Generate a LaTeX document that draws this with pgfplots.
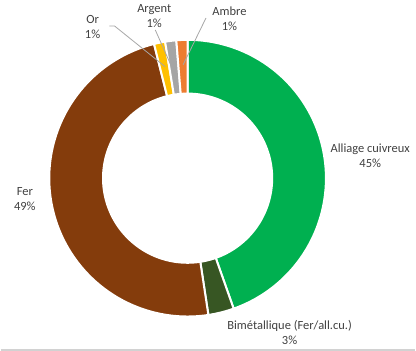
\documentclass[border=0pt]{standalone}
\usepackage{pgfplots}
\pgfplotsset{compat=1.18}
\usepackage{pgfplotstable}
\usepackage{fontspec}
\setmainfont{Carlito}

\definecolor{cu}{HTML}{00B050}
\definecolor{bim}{HTML}{375623}
\definecolor{fer}{HTML}{843C0C}
\definecolor{or}{HTML}{FFC000}
\definecolor{arg}{HTML}{A5A5A5}
\definecolor{amb}{HTML}{ED7D31}
\definecolor{lbl}{HTML}{404040}
\definecolor{lead}{HTML}{A6A6A6}

% share of each material, clockwise from 12 o'clock
\pgfplotstableread{
name value col
Alliage 44.6 cu
Bimetal 3.0 bim
Fer 48.5 fer
Or 1.3 or
Argent 1.3 arg
Ambre 1.3 amb
}\donut

\tikzset{lab/.style={font=\fontsize{9.4}{11.3}\selectfont, text=lbl, align=center}}

\begin{document}
\begin{tikzpicture}
\begin{axis}[scale only axis, width=312pt, height=262.5pt,
  xmin=0, xmax=416, ymin=0, ymax=350, hide axis, clip=false]

\pgfplotstablegetrowsof{\donut}
\pgfmathtruncatemacro\N{\pgfplotsretval-1}
\def\cum{0}
\pgfplotsforeachungrouped \i in {0,...,\N}{
  \pgfplotstablegetelem{\i}{value}\of\donut \let\v\pgfplotsretval
  \pgfplotstablegetelem{\i}{col}\of\donut \let\c\pgfplotsretval
  \pgfmathsetmacro\a{\cum*3.6}
  \pgfmathsetmacro\b{(\cum+\v)*3.6}
  \edef\temp{\noexpand\addplot[fill=\c, draw=white, line width=1.5pt, line join=round,
    domain=0:4, samples=401]
    ({187.5+(139-54*(min(max(x-1,0),1)-min(max(x-3,0),1)))*sin(\a+(\b-\a)*(min(x,1)-min(max(x-2,0),1)))},
     {174+(139-54*(min(max(x-1,0),1)-min(max(x-3,0),1)))*cos(\a+(\b-\a)*(min(x,1)-min(max(x-2,0),1)))});}
  \temp
  \pgfmathsetmacro\cum{\cum+\v}
  \global\let\cum\cum
}

% leader lines
\addplot[lead, line width=0.6pt] coordinates {(109,327) (114,327) (165,286)};
\addplot[lead, line width=0.6pt] coordinates {(155,323) (171,287)};
\addplot[lead, line width=0.6pt] coordinates {(206,335) (183,288)};

% bottom frame line
\addplot[gray!35, line width=1.5pt] coordinates {(0,1.5) (416,1.5)};

\node[lab] at (axis cs:371,196.5) {Alliage cuivreux\\45\%};
\node[lab] at (axis cs:290,18.5) {Bimétallique (Fer/all.cu.)\\3\%};
\node[lab] at (axis cs:24,153.5) {Fer\\49\%};
\node[lab] at (axis cs:92,326) {Or\\1\%};
\node[lab] at (axis cs:154,337) {Argent\\1\%};
\node[lab] at (axis cs:229.5,334) {Ambre\\1\%};
\end{axis}
\end{tikzpicture}
\end{document}
